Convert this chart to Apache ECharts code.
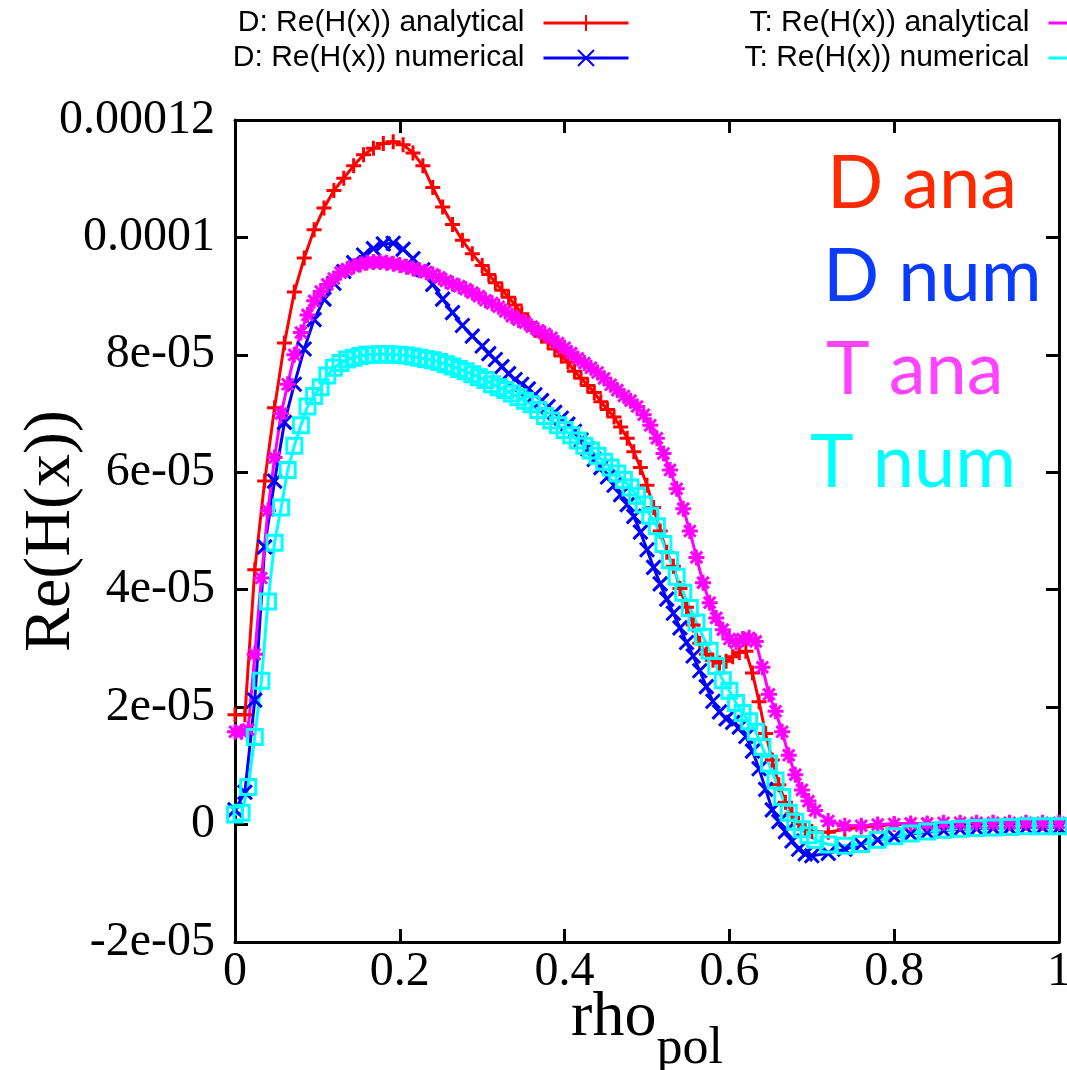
<!DOCTYPE html>
<html><head><meta charset="utf-8">
<script src="https://cdn.jsdelivr.net/npm/echarts@6/dist/echarts.min.js"></script>
<style>html,body{margin:0;padding:0;background:#fff}#c{width:1067px;height:1070px}</style>
</head><body><div id="c"></div>
<script>
// ---- data (values in units of 1e-5) ----
const rhoD = [0,0.012,0.024,0.036,0.048,0.06,0.072,0.084,0.096,0.108,
  0.12,0.132,0.144,0.156,0.168,0.18,0.192,0.204,0.216,0.228,
  0.24,0.252,0.264,0.276,0.288,0.3,0.308,0.316,0.324,0.332,
  0.34,0.348,0.356,0.364,0.372,0.38,0.388,0.396,0.404,0.412,
  0.42,0.428,0.436,0.444,0.452,0.46,0.468,0.476,0.484,0.492,
  0.5,0.508,0.516,0.524,0.532,0.54,0.548,0.556,0.564,0.572,
  0.58,0.588,0.596,0.604,0.612,0.62,0.628,0.636,0.644,0.652,
  0.66,0.668,0.676,0.684,0.692,0.7,0.72,0.74,0.76,0.78,
  0.8,0.82,0.84,0.86,0.88,0.9,0.92,0.94,0.96,0.98,1.0];
const dAna = [1.87,1.87,4.34,5.85,7.1,8.2,9.07,9.65,10.13,10.5,
  10.8,11.01,11.22,11.41,11.52,11.6,11.63,11.58,11.44,11.22,
  10.85,10.52,10.22,9.95,9.72,9.52,9.37,9.23,9.1,8.98,
  8.85,8.7,8.55,8.42,8.32,8.22,8.1,7.98,7.88,7.72,
  7.6,7.48,7.36,7.2,7.07,6.94,6.77,6.58,6.35,6.08,
  5.78,5.4,5.0,4.64,4.4,4.02,3.7,3.4,3.09,2.9,
  2.8,2.75,2.78,2.86,2.93,2.95,2.58,2.09,1.55,1.1,
  0.68,0.38,0.18,0.02,-0.07,-0.12,-0.13,-0.08,-0.04,-0.02,
  0.0,0.01,0.01,0.02,0.02,0.02,0.03,0.03,0.03,0.03,0.03];
const dNum = [0.25,0.55,2.12,4.73,5.85,6.85,7.5,8.1,8.6,8.95,
  9.22,9.42,9.57,9.7,9.81,9.89,9.9,9.8,9.64,9.45,
  9.2,8.95,8.72,8.5,8.32,8.15,8.02,7.92,7.8,7.68,
  7.58,7.5,7.42,7.32,7.22,7.12,7.02,6.92,6.82,6.7,
  6.55,6.4,6.22,6.08,5.92,5.78,5.62,5.45,5.25,4.98,
  4.68,4.38,4.1,3.84,3.6,3.35,3.1,2.87,2.62,2.35,
  2.1,1.92,1.8,1.74,1.66,1.5,1.25,0.95,0.6,0.25,
  0.05,-0.12,-0.28,-0.42,-0.5,-0.53,-0.49,-0.42,-0.34,-0.26,
  -0.21,-0.16,-0.13,-0.1,-0.08,-0.07,-0.06,-0.06,-0.05,-0.05,-0.05];
const rhoT = [0,0.008,0.016,0.024,0.032,0.04,0.048,0.056,0.064,0.072,
  0.08,0.088,0.096,0.104,0.112,0.12,0.128,0.136,0.144,0.152,
  0.16,0.168,0.176,0.184,0.192,0.2,0.208,0.216,0.224,0.232,
  0.24,0.248,0.256,0.264,0.272,0.28,0.288,0.296,0.304,0.312,
  0.32,0.328,0.336,0.344,0.352,0.36,0.368,0.376,0.384,0.392,
  0.4,0.408,0.416,0.424,0.432,0.44,0.448,0.456,0.464,0.472,
  0.48,0.488,0.496,0.504,0.512,0.52,0.528,0.536,0.544,0.552,
  0.56,0.568,0.576,0.584,0.592,0.6,0.608,0.616,0.624,0.632,
  0.64,0.648,0.656,0.664,0.672,0.68,0.688,0.696,0.704,0.72,
  0.74,0.76,0.78,0.8,0.82,0.84,0.86,0.88,0.9,0.92,
  0.94,0.96,0.98,1.0];
const tAna = [1.58,1.58,1.62,2.9,4.2,5.35,6.25,7.0,7.5,8.0,
  8.38,8.68,8.92,9.08,9.2,9.3,9.4,9.46,9.51,9.54,
  9.57,9.58,9.58,9.57,9.55,9.53,9.5,9.47,9.44,9.41,
  9.37,9.32,9.26,9.21,9.17,9.12,9.06,9.0,8.93,8.88,
  8.82,8.74,8.66,8.6,8.55,8.48,8.42,8.36,8.29,8.2,
  8.12,8.03,7.94,7.86,7.78,7.7,7.6,7.49,7.4,7.3,
  7.22,7.12,6.98,6.8,6.58,6.32,6.04,5.72,5.38,5.0,
  4.55,4.12,3.78,3.52,3.32,3.16,3.1,3.16,3.18,3.12,
  2.68,2.22,1.93,1.58,1.18,0.85,0.59,0.4,0.24,0.06,
  -0.02,-0.02,0.0,0.01,0.02,0.02,0.03,0.03,0.03,0.03,
  0.03,0.03,0.03,0.03];
const tNum = [0.17,0.2,0.64,1.49,2.45,3.8,4.8,5.4,6.04,6.45,
  6.8,7.12,7.3,7.45,7.65,7.78,7.86,7.92,7.95,7.98,
  8.0,8.0,8.01,8.01,8.0,8.0,7.99,7.97,7.95,7.93,
  7.91,7.88,7.84,7.8,7.76,7.72,7.67,7.62,7.57,7.5,
  7.45,7.4,7.34,7.28,7.22,7.16,7.06,6.96,6.88,6.8,
  6.72,6.63,6.54,6.45,6.37,6.28,6.18,6.08,5.98,5.87,
  5.74,5.6,5.45,5.26,5.08,4.78,4.5,4.22,3.95,3.69,
  3.44,3.2,2.96,2.7,2.46,2.28,2.07,1.9,1.76,1.58,
  1.32,1.04,0.75,0.47,0.2,0.05,-0.08,-0.18,-0.26,-0.34,
  -0.36,-0.33,-0.26,-0.2,-0.15,-0.12,-0.09,-0.07,-0.06,-0.05,
  -0.04,-0.03,-0.03,-0.03];
const seriesNames = ['D: Re(H(x)) analytical','D: Re(H(x)) numerical','T: Re(H(x)) analytical','T: Re(H(x)) numerical'];
const xTicks = [0,0.2,0.4,0.6,0.8,1];
const xTickLabels = ['0','0.2','0.4','0.6','0.8','1'];
const yTicks = [-2,0,2,4,6,8,10,12];
const yTickLabels = ['-2e-05','0','2e-05','4e-05','6e-05','8e-05','0.0001','0.00012'];
const annotations = ['D ana','D num','T ana','T num'];

// ---- chart ----
const SERIF = "'Liberation Serif','Times New Roman',serif";
const SANS = "Lato,'Open Sans',sans-serif";
const KEYFONT = "'Liberation Sans Narrow','Liberation Sans',Arial,sans-serif";
const plus = 'path://M0,-1L0,1M-1,0L1,0';
const cross = 'path://M-1,-1L1,1M-1,1L1,-1';
const star = 'path://M0,-1L0,1M-1,0L1,0M-0.72,-0.72L0.72,0.72M-0.72,0.72L0.72,-0.72';
function pairs(xs, ys){ return xs.map((x,i)=>[x, ys[i]]); }
function lineSeries(name, xs, ys, color, symbol, size, fill){
  return {
    name, type:'line', data: pairs(xs, ys), xAxisIndex:0, yAxisIndex:0,
    symbol, symbolSize:size, showAllSymbol:true, smooth:false,
    lineStyle:{color, width:3},
    itemStyle:{color: fill, borderColor: color, borderWidth:3},
    emphasis:{disabled:true}, clip:true
  };
}
const chart = echarts.init(document.getElementById('c'));
const frame = {onZero:false, lineStyle:{color:'#000', width:3}};
const tick = {inside:true, length:13, lineStyle:{color:'#000', width:3}};
const keyText = {fontFamily:KEYFONT, fontSize:30, lineHeight:28, color:'#000', padding:[0,14,0,0]};
const legendBase = {orient:'vertical', align:'right', top:8, padding:0, itemWidth:85, itemHeight:20, itemGap:5,
  textStyle:keyText, selectedMode:false, lineStyle:{width:3}};
chart.setOption({
  animation:false,
  backgroundColor:'#fff',
  grid:{left:235, right:8, top:120, bottom:128, containLabel:false, outerBoundsMode:'none'},
  legend:[
    Object.assign({right:437, data:[seriesNames[0], seriesNames[1]]}, legendBase),
    Object.assign({right:-68, data:[seriesNames[2], seriesNames[3]]}, legendBase)
  ],
  xAxis:[
    {type:'value', min:0, max:1, interval:0.2, position:'bottom',
     axisLine:frame, axisTick:tick, splitLine:{show:false},
     axisLabel:{fontFamily:SERIF, fontSize:48, color:'#000', margin:6,
       formatter:v=>{const i=xTicks.findIndex(t=>Math.abs(t-v)<1e-9); return i>=0?xTickLabels[i]:'';}},
     name:'{a|rho}{b|pol}', nameLocation:'middle', nameGap:44, nameMoveOverlap:false,
     nameTextStyle:{color:'#000', rich:{
       a:{fontFamily:SERIF, fontSize:64, lineHeight:64, verticalAlign:'top', color:'#000'},
       b:{fontFamily:SERIF, fontSize:52, lineHeight:52, padding:[37,0,0,0], verticalAlign:'top', color:'#000'}}}},
    {type:'value', min:0, max:1, interval:0.2, position:'top',
     axisLine:frame, axisTick:tick, axisLabel:{show:false}, splitLine:{show:false}}
  ],
  yAxis:[
    {type:'value', min:-2, max:12, interval:2, position:'left',
     axisLine:frame, axisTick:tick, splitLine:{show:false},
     axisLabel:{fontFamily:SERIF, fontSize:48, color:'#000', margin:20,
       formatter:v=>{const i=yTicks.findIndex(t=>Math.abs(t-v)<1e-9); return i>=0?yTickLabels[i]:'';}},
     name:'Re(H(x))', nameLocation:'middle', nameRotate:90, nameGap:150, nameMoveOverlap:false,
     nameTextStyle:{fontFamily:SERIF, fontSize:66, color:'#000'}},
    {type:'value', min:-2, max:12, interval:2, position:'right',
     axisLine:frame, axisTick:tick, axisLabel:{show:false}, splitLine:{show:false}}
  ],
  series:[
    lineSeries(seriesNames[0], rhoD, dAna, '#ff0000', plus, 15, '#ff0000'),
    lineSeries(seriesNames[1], rhoD, dNum, '#0000ff', cross, 14, '#0000ff'),
    lineSeries(seriesNames[2], rhoT, tAna, '#ff00ff', star, 16, '#ff00ff'),
    lineSeries(seriesNames[3], rhoT, tNum, '#00ffff', 'rect', 15, 'rgba(0,0,0,0)')
  ],
  graphic:[
    {type:'text', x:827, y:184, style:{text:annotations[0], fill:'#ff2a00', fontFamily:SANS, fontSize:74, verticalAlign:'middle'}},
    {type:'text', x:823, y:277, style:{text:annotations[1], fill:'#0a3cff', fontFamily:SANS, fontSize:74, verticalAlign:'middle'}},
    {type:'text', x:826, y:370, style:{text:annotations[2], fill:'#ff44ff', fontFamily:SANS, fontSize:74, verticalAlign:'middle'}},
    {type:'text', x:810, y:463, style:{text:annotations[3], fill:'#00ffff', fontFamily:SANS, fontSize:74, verticalAlign:'middle'}}
  ]
});
</script>
</body></html>
